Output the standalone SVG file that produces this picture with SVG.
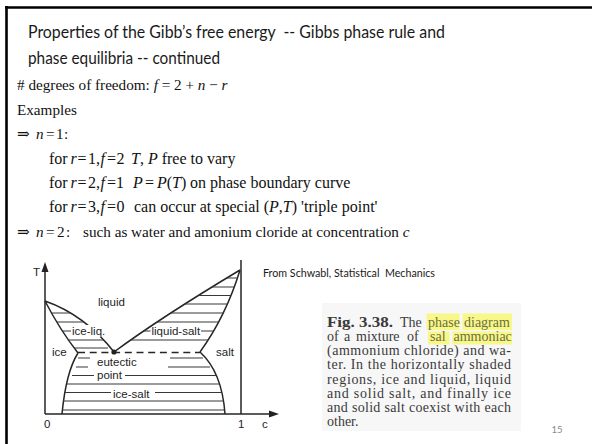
<svg xmlns="http://www.w3.org/2000/svg" width="592" height="444" viewBox="0 0 592 444">
<style>
.title{font-family:Lato,"Liberation Sans",sans-serif;font-size:17px;fill:#1a1a1a}
.body{font-family:"Liberation Serif","DejaVu Serif",serif;font-size:15.2px;fill:#111}
.big{font-size:16px}
.i{font-style:italic}
.ln{fill:none;stroke:#262626;stroke-width:1.5}
.hat{fill:none;stroke:#383838;stroke-width:1.1}
.lbl{font-family:"Liberation Sans",Arial,sans-serif;font-size:11.5px;fill:#1e1e1e}
.cap{font-family:"Liberation Serif","DejaVu Serif",serif;font-size:14px;fill:#3a3a3a}
.hl{fill:#f7f78a}
.hlt{fill:#6e6e3c}
</style>
<rect width="592" height="444" fill="#fff"/>
<path d="M5,7.5H592M6.5,6V444" stroke="#000" stroke-width="2.6" fill="none"/>

<g id="title">
<text class="title" x="28" y="37.5" textLength="417" lengthAdjust="spacingAndGlyphs" xml:space="preserve">Properties of the Gibb’s free energy  -- Gibbs phase rule and</text>
<text class="title" x="28" y="63.5" textLength="192" lengthAdjust="spacingAndGlyphs">phase equilibria -- continued</text>
</g>

<g id="body">
<text class="body" x="17" y="90"># degrees of freedom: <tspan class="i">f</tspan> = 2 + <tspan class="i">n</tspan> − <tspan class="i">r</tspan></text>
<text class="body" x="17" y="114.5">Examples</text>
<text class="body" y="139"><tspan x="17">⇒</tspan><tspan x="36" class="i">n</tspan><tspan x="46">=</tspan><tspan x="56">1</tspan><tspan x="64">:</tspan></text>
<text class="body big" y="163.5"><tspan x="49">for</tspan><tspan x="70.5" class="i">r</tspan><tspan x="77.5">=</tspan><tspan x="88">1,</tspan><tspan x="100.5" class="i">f</tspan><tspan x="107">=</tspan><tspan x="116.5">2</tspan><tspan x="131" class="i">T</tspan>, <tspan class="i">P</tspan> free to vary</text>
<text class="body big" y="188"><tspan x="49">for</tspan><tspan x="70.5" class="i">r</tspan><tspan x="77.5">=</tspan><tspan x="88">2,</tspan><tspan x="100.5" class="i">f</tspan><tspan x="107">=</tspan><tspan x="116">1</tspan><tspan x="133" class="i">P</tspan><tspan x="145">=</tspan><tspan x="157" class="i">P</tspan>(<tspan class="i">T</tspan>)<tspan x="190">on phase boundary curve</tspan></text>
<text class="body big" y="212"><tspan x="49">for</tspan><tspan x="70.5" class="i">r</tspan><tspan x="77.5">=</tspan><tspan x="88">3,</tspan><tspan x="100.5" class="i">f</tspan><tspan x="107">=</tspan><tspan x="116.5">0</tspan><tspan x="134">can occur at special (</tspan><tspan class="i">P</tspan>,<tspan class="i">T</tspan>) 'triple point'</text>
<text class="body" y="236.5" font-size="15"><tspan x="17">⇒</tspan><tspan x="36" class="i">n</tspan><tspan x="46">=</tspan><tspan x="57">2</tspan><tspan x="66">:</tspan><tspan x="83">such as water and amonium cloride at concentration </tspan><tspan class="i">c</tspan></text>
</g>

<g id="phase-diagram">
<g id="axes">
<path class="ln" d="M45,414V270M45,414H270M241,260V414"/>
<path d="M45,262L41.5,272H48.5Z M279,414L269,410.5V417.5Z" fill="#222"/>
<text class="lbl" x="33" y="276">T</text>
<text class="lbl" x="44" y="428">0</text>
<text class="lbl" x="238" y="428">1</text>
<text class="lbl" x="262" y="428">c</text>
</g>
<g id="boundaries">
<path class="ln" d="M45,301Q85,315 114,352 M45,301Q60,330 78,353 M78,353Q66,372 62,414 M114,352Q160,318 240,270 M240,270Q226,316 200,352 M200,352Q222,372 225,414"/>
<path class="ln" d="M78,352.5H200" stroke-dasharray="7 4.7"/>
<circle cx="114" cy="352" r="2.6" fill="#222"/>
</g>
<g id="hatching">
<path class="hat" d="M51.5,313H70.6M56.7,322H84M62.3,331H71M68.4,340H103.5M74.3,348H108"/>
<path class="hat" d="M226.7,278H237.5M212,287H234.3M198.3,295.5H231M184.8,304H227.4M170.8,313H223.2M157.1,322H218.7M143.7,331H150.5M201,331H213.6M130.7,340H208.2"/>
<path class="hat" d="M78,358H90M170,358H203M76,367H88M168,367H210M72,375.5H94M125,375.5H216.4M66.4,384H219.6M64.8,392.5H111M155,392.5H221.9M63.4,401H223.6M62.3,410H224.7"/>
</g>
<g id="labels">
<text class="lbl" x="98" y="306">liquid</text>
<rect x="71" y="325" width="36" height="12" fill="#fff"/>
<text class="lbl" x="72" y="334.5">ice-liq.</text>
<text class="lbl" x="151.5" y="334.5">liquid-salt</text>
<text class="lbl" x="52" y="356">ice</text>
<text class="lbl" x="216" y="356">salt</text>
<text class="lbl" x="97" y="365.5">eutectic</text>
<text class="lbl" x="97" y="378.5">point</text>
<text class="lbl" x="113" y="398">ice-salt</text>
</g>
</g>

<text id="source" x="263" y="277" font-family="Lato,'Liberation Sans',sans-serif" font-size="10.5" fill="#1a1a1a" textLength="172" lengthAdjust="spacingAndGlyphs" xml:space="preserve">From Schwabl, Statistical  Mechanics</text>

<g id="caption">
<rect x="322" y="303" width="199" height="128" fill="#f7f7f7"/>
<rect class="hl" x="426.5" y="313.5" width="33" height="16.5"/>
<rect class="hl" x="462.5" y="313.5" width="49.5" height="16.5"/>
<rect class="hl" x="428" y="331.5" width="21.5" height="13"/>
<rect class="hl" x="452.5" y="331.5" width="59.5" height="13"/>
<text class="cap" y="327"><tspan x="327" font-weight="bold" textLength="66" lengthAdjust="spacingAndGlyphs">Fig. 3.38.</tspan><tspan x="400">The</tspan><tspan x="428" class="hlt">phase</tspan><tspan x="464" class="hlt">diagram</tspan></text>
<text class="cap" y="341.1"><tspan x="327">of</tspan><tspan x="344">a</tspan><tspan x="356">mixture</tspan><tspan x="407">of</tspan><tspan x="430" class="hlt">sal</tspan><tspan x="453.5" class="hlt">ammoniac</tspan></text>
<text class="cap" x="327" y="355.3" textLength="184" lengthAdjust="spacing">(ammonium chloride) and wa-</text>
<text class="cap" x="327" y="369.4" textLength="184" lengthAdjust="spacing">ter. In the horizontally shaded</text>
<text class="cap" x="327" y="383.6" textLength="184" lengthAdjust="spacing">regions, ice and liquid, liquid</text>
<text class="cap" x="327" y="397.7" textLength="184" lengthAdjust="spacing">and solid salt, and finally ice</text>
<text class="cap" x="327" y="411.9" textLength="184" lengthAdjust="spacing">and solid salt coexist with each</text>
<text class="cap" x="327" y="426">other.</text>
</g>

<text id="page-number" x="557" y="433" text-anchor="middle" font-family="Lato,'Liberation Sans',sans-serif" font-size="9.5" fill="#8a8a8a">15</text>
</svg>
